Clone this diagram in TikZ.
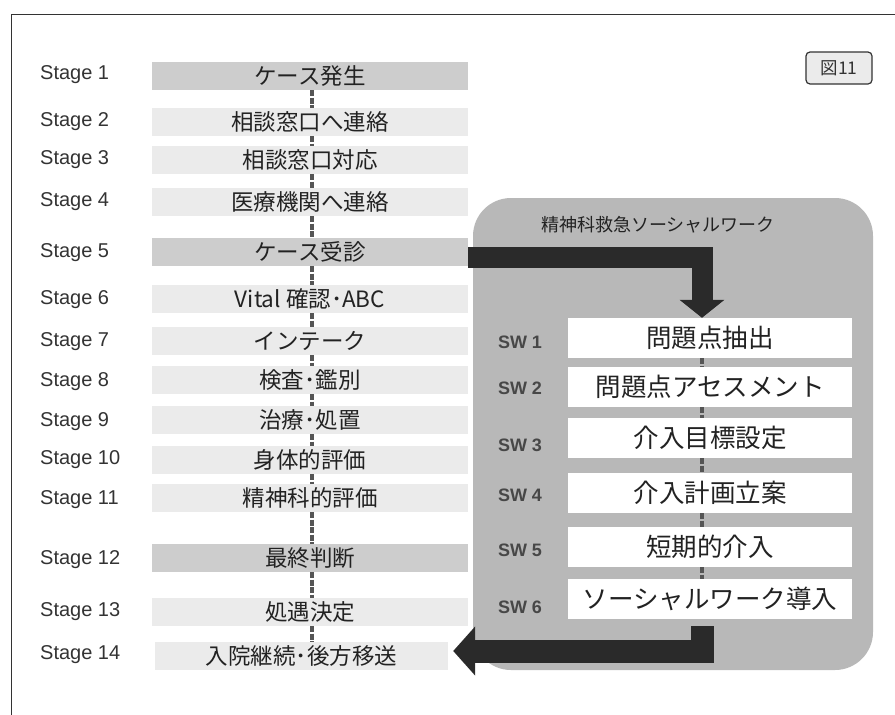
\documentclass[tikz,border=0pt]{standalone}
\usepackage{fontspec}
\setmainfont{Liberation Sans}
\newfontfamily\jp{Noto Sans CJK JP}
\usetikzlibrary{arrows.meta,calc}
\definecolor{framec}{HTML}{333333}
\definecolor{bigbg}{HTML}{B8B8B8}
\definecolor{bardark}{HTML}{CDCDCD}
\definecolor{barlight}{HTML}{EBEBEB}
\definecolor{arrowc}{HTML}{2A2A2A}
\definecolor{linec}{HTML}{555555}
\definecolor{txt}{HTML}{222222}
\tikzset{
  stagelab/.style={anchor=west,inner sep=0pt,text=framec,font=\fontsize{20}{22}\selectfont},
  barbase/.style={inner sep=0pt,minimum width=316pt,minimum height=28pt,text=txt,font=\jp\fontsize{22.5}{25}\selectfont},
  bardk/.style={barbase,fill=bardark},
  barlt/.style={barbase,fill=barlight},
  swbox/.style={fill=white,inner sep=0pt,minimum width=284pt,minimum height=40pt,text=txt,font=\jp\fontsize{25.5}{28}\selectfont},
  swlab/.style={inner sep=0pt,text=framec!90,font=\bfseries\fontsize{18}{20}\selectfont},
  vline/.style={draw=linec,line width=3.5pt,dash pattern=on 6pt off 1.5pt},
  bigarrowA/.style={draw=arrowc,line width=21pt,line join=miter,-{Triangle[width=44pt,length=18pt]}},
  bigarrowB/.style={draw=arrowc,line width=23pt,line join=miter,-{Triangle[width=48pt,length=22pt]}},
}
\begin{document}
\begin{tikzpicture}[x=1pt,y=-1pt]
\useasboundingbox (0,0) rectangle (895,715);
\fill[white] (0,0) rectangle (895,715);
% frame
\draw[framec,line width=1pt] (11,715) -- (11,14) -- (895,14);
% fig label
\node[draw=framec,fill=barlight,line width=1.2pt,rounded corners=4pt,minimum width=66pt,minimum height=32pt,inner sep=0pt,text=framec,font=\jp\fontsize{17.5}{20}\selectfont] (fig) at (839,68) {図11};
% big SW region
\fill[bigbg,rounded corners=38pt] (473,198) rectangle (873,670);
\node[inner sep=0pt,text=txt,font=\jp\fontsize{18}{21}\selectfont] (title) at (658,225) {精神科救急ソーシャルワーク};
% stage labels
\foreach \i/\y in {1/75,2/122,3/160,4/202,5/253,6/300,7/342,8/382,9/422,10/460,11/500,12/560,13/612,14/655}
  \node[stagelab] (l\i) at (40,\y) {Stage \i};
% stage bars
\node[bardk] (s1) at (310,76) {ケース発生};
\node[barlt] (s2) at (310,122) {相談窓口へ連絡};
\node[barlt] (s3) at (310,160) {相談窓口対応};
\node[barlt] (s4) at (310,202) {医療機関へ連絡};
\node[bardk] (s5) at (310,252) {ケース受診};
\node[barlt] (s6) at (310,299) {Vital 確認･ABC};
\node[barlt] (s7) at (310,341) {インテーク};
\node[barlt] (s8) at (310,380) {検査･鑑別};
\node[barlt] (s9) at (310,420) {治療･処置};
\node[barlt] (s10) at (310,460) {身体的評価};
\node[barlt] (s11) at (310,498) {精神科的評価};
\node[bardk] (s12) at (310,558) {最終判断};
\node[barlt] (s13) at (310,612) {処遇決定};
\node[barlt,minimum width=293pt] (s14) at (301.5,656) {入院継続･後方移送};
\coordinate (scol) at (312,0);
\foreach \a/\b in {1/2,2/3,3/4,4/5,5/6,6/7,7/8,8/9,9/10,10/11,11/12,12/13,13/14}
  \draw[vline] (scol |- s\a.south) -- (scol |- s\b.north);
% SW boxes
\coordinate (col) at (702,0);
\node[swbox] (w1) at (710,338) {問題点抽出};
\node[swbox] (w2) at (710,387) {問題点アセスメント};
\node[swbox] (w3) at (710,438) {介入目標設定};
\node[swbox] (w4) at (710,493) {介入計画立案};
\node[swbox] (w5) at (710,547) {短期的介入};
\node[swbox] (w6) at (710,599) {ソーシャルワーク導入};
\foreach \i/\y in {1/342,2/388,3/445,4/495,5/550,6/607}
  \node[swlab] (sl\i) at (520,\y) {SW \i};
\foreach \a/\b in {1/2,2/3,3/4,4/5,5/6}
  \draw[vline] (col |- w\a.south) -- (col |- w\b.north);
% arrows
\draw[bigarrowA] ([yshift=-5pt]s5.east) -| (col |- w1.north);
\draw[bigarrowB] ([yshift=-7pt]col |- w6.south) |- ([xshift=5pt,yshift=5pt]s14.east);
\end{tikzpicture}
\end{document}
